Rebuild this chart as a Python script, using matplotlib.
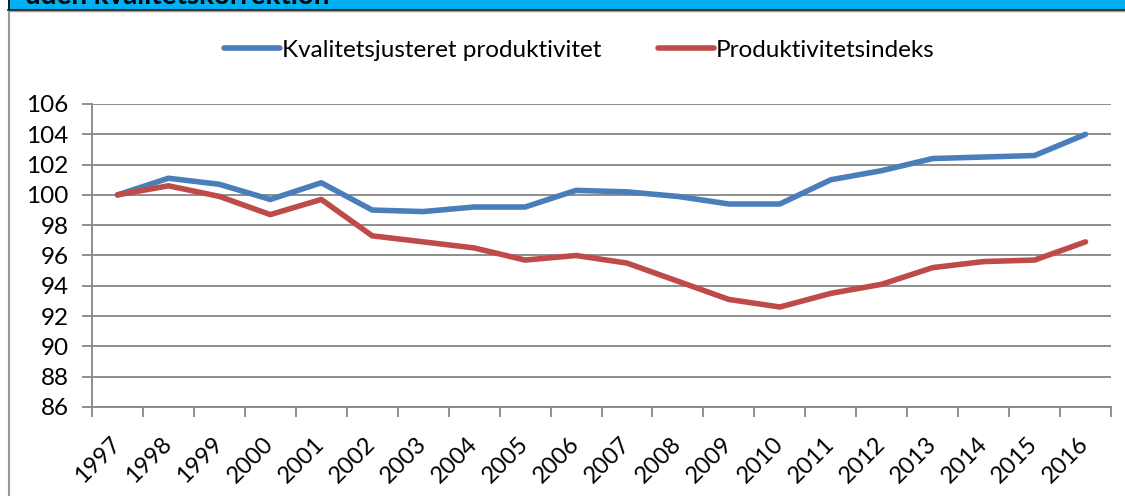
import matplotlib
matplotlib.use("Agg")
import matplotlib.pyplot as plt
from matplotlib.patches import Rectangle
from matplotlib.lines import Line2D

plt.rcParams["font.family"] = ["Lato", "DejaVu Sans"]

years = [str(y) for y in range(1997, 2017)]
kvalitet = [100.0, 101.1, 100.7, 99.7, 100.8, 99.0, 98.9, 99.2, 99.2, 100.3,
            100.2, 99.9, 99.4, 99.4, 101.0, 101.6, 102.4, 102.5, 102.6, 104.0]
produktivitet = [100.0, 100.6, 99.9, 98.7, 99.7, 97.3, 96.9, 96.5, 95.7, 96.0,
                 95.5, 94.3, 93.1, 92.6, 93.5, 94.1, 95.2, 95.6, 95.7, 96.9]
y_ticks = list(range(86, 107, 2))

W, H = 1125, 496
fig = plt.figure(figsize=(W / 100, H / 100), dpi=100)

# banner at top (cut off in the original)
fig.patches.append(Rectangle((8 / W, 1 - 9 / H), 1, 9 / H, transform=fig.transFigure,
                             facecolor="#00B0F0", edgecolor="none", zorder=0))
fig.lines.append(Line2D([8 / W, 1], [1 - 9.5 / H] * 2, transform=fig.transFigure,
                        color="black", lw=1.2))
fig.lines.append(Line2D([8 / W, 1], [1 - 11 / H] * 2, transform=fig.transFigure,
                        color="#999999", lw=1.0))
fig.lines.append(Line2D([8.5 / W] * 2, [0, 1 - 10 / H], transform=fig.transFigure,
                        color="#999999", lw=1.5))
fig.lines.append(Line2D([8.5 / W] * 2, [1 - 10 / H, 1], transform=fig.transFigure,
                        color="black", lw=1.2))
fig.text(25 / W, 1 - 4 / H, "uden kvalitetskorrektion", fontsize=20, fontweight="bold",
         va="baseline", ha="left")

ax = fig.add_axes([92 / W, (H - 407) / H, 1019 / W, 303 / H])
x = range(len(years))
l1, = ax.plot(x, kvalitet, color="#4A7EBB", lw=4, solid_capstyle="round",
              solid_joinstyle="round", label="Kvalitetsjusteret produktivitet", zorder=3)
l2, = ax.plot(x, produktivitet, color="#BE4B48", lw=4, solid_capstyle="round",
              solid_joinstyle="round", label="Produktivitetsindeks", zorder=3)

ax.set_xlim(-0.5, len(years) - 0.5)
ax.set_ylim(86, 106)
ax.set_yticks(y_ticks)
ax.tick_params(axis="y", labelsize=17.5, length=7, width=1.3, color="#868686", pad=10)
ax.grid(axis="y", color="#868686", lw=1.3)
ax.set_axisbelow(True)

ax.set_xticks(list(x))
ax.set_xticklabels(years, rotation=45, ha="right", va="center", rotation_mode="anchor",
                   fontsize=17)
ax.tick_params(axis="x", which="major", length=0, pad=24)
ax.set_xticks([i - 0.5 for i in range(len(years) + 1)], minor=True)
ax.tick_params(axis="x", which="minor", length=7, width=1.3, color="#868686")

for s in ["top", "right"]:
    ax.spines[s].set_visible(False)
for s in ["left", "bottom"]:
    ax.spines[s].set_color("#868686")
    ax.spines[s].set_linewidth(1.3)

fig.legend(handles=[l1, l2], loc="center", bbox_to_anchor=(0.515, 1 - 50 / H), ncol=2,
           frameon=False, fontsize=17.5, handlelength=2.3, handletextpad=0.1,
           columnspacing=2.3)

fig.savefig("out.png", dpi=100)
